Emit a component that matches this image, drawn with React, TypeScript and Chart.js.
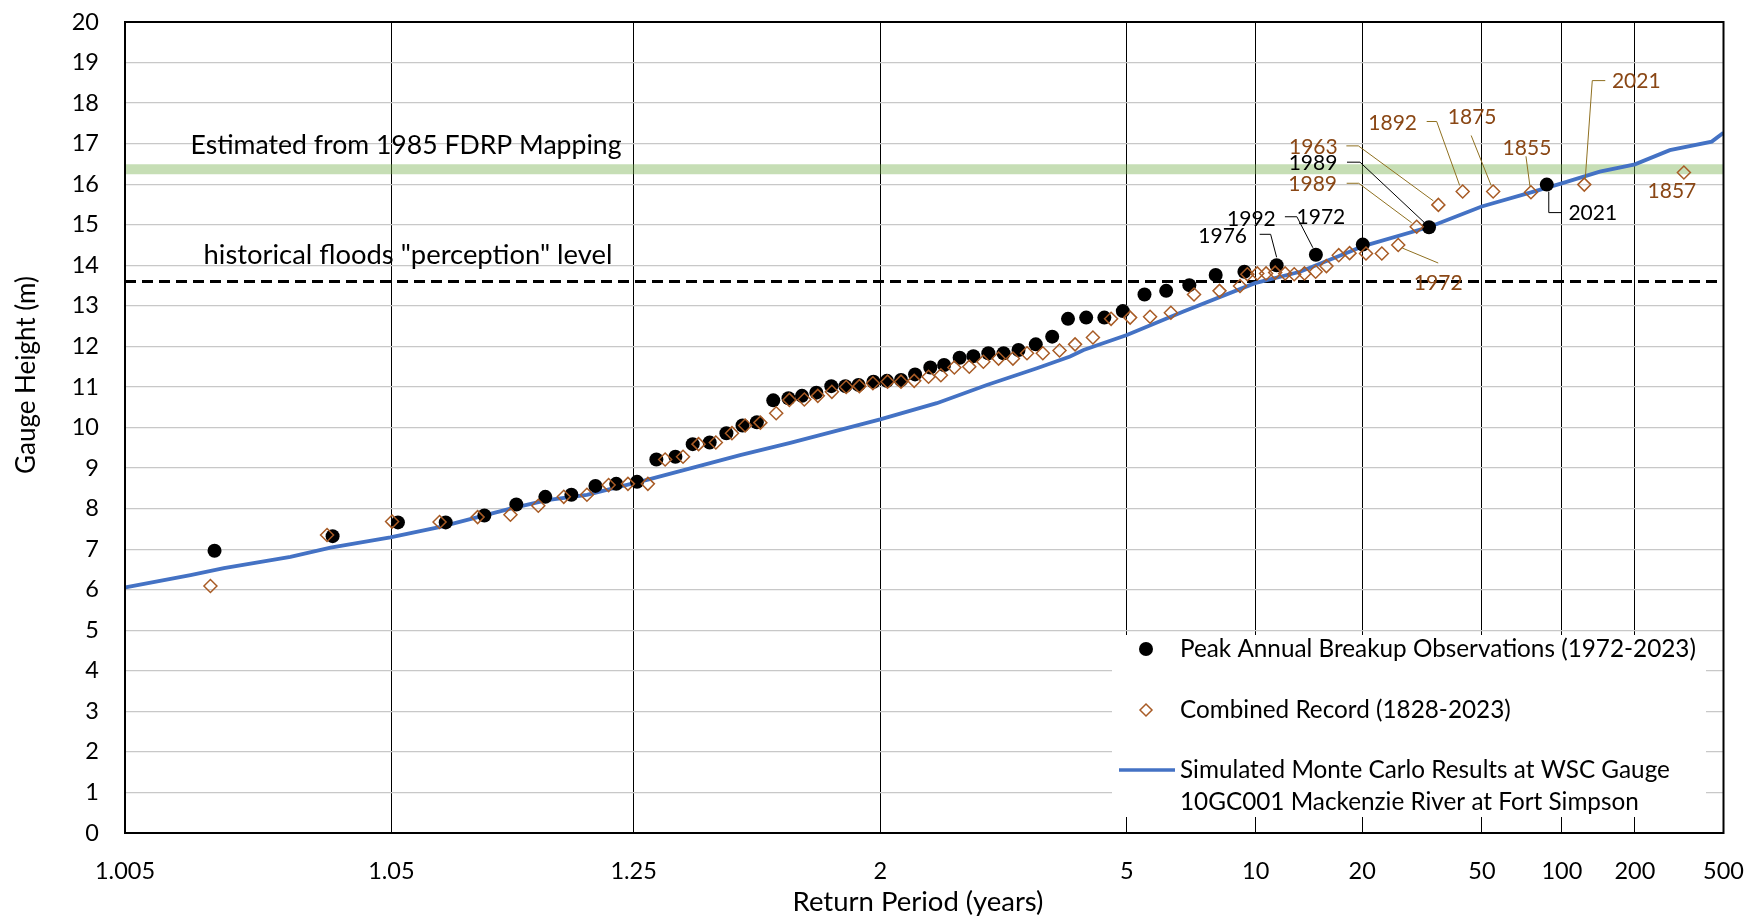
import React, { useEffect, useRef } from 'react';
import { Chart, registerables } from 'chart.js';

Chart.register(...registerables);

// ---------- DATA ----------
// x-axis is a normal-probability axis: x values are the standard normal variate
// of the plotting position (z = Φ⁻¹(1 − 1/T)); ticks are labelled with return period T.
const RETURN_PERIOD_TICKS = [1.005, 1.05, 1.25, 2, 5, 10, 20, 50, 100, 200, 500];
const GAUGE_MIN = 0;
const GAUGE_MAX = 20;

// Peak Annual Breakup Observations (1972-2023)
const obsZ = [
  -2.272, -1.869, -1.646, -1.483, -1.351, -1.242, -1.143, -1.054, -0.972, -0.901,
  -0.830, -0.764, -0.699, -0.640, -0.582, -0.525, -0.470, -0.421, -0.365, -0.313,
  -0.267, -0.218, -0.167, -0.119, -0.074, -0.023, 0.023, 0.071, 0.119, 0.171,
  0.218, 0.271, 0.318, 0.369, 0.421, 0.472, 0.531, 0.587, 0.641, 0.703,
  0.765, 0.828, 0.902, 0.976, 1.055, 1.145, 1.243, 1.353, 1.487, 1.647,
  1.873, 2.275,
];
const obsHeight = [
  6.96, 7.32, 7.66, 7.66, 7.83, 8.10, 8.29, 8.34, 8.56, 8.61,
  8.66, 9.21, 9.28, 9.59, 9.63, 9.86, 10.05, 10.13, 10.67, 10.72,
  10.78, 10.86, 11.02, 11.02, 11.05, 11.13, 11.15, 11.17, 11.31, 11.48,
  11.54, 11.72, 11.76, 11.83, 11.83, 11.91, 12.05, 12.24, 12.68, 12.71,
  12.71, 12.87, 13.28, 13.37, 13.51, 13.76, 13.84, 14.00, 14.26, 14.51,
  14.94, 15.99,
];

// Combined Record (1828-2023)
const combZ = [
  -2.286, -1.888, -1.666, -1.504, -1.374, -1.262, -1.167, -1.080, -1.001, -0.927,
  -0.861, -0.793, -0.734, -0.673, -0.620, -0.561, -0.506, -0.461, -0.409, -0.355,
  -0.310, -0.259, -0.213, -0.165, -0.116, -0.071, -0.025, 0.025, 0.071, 0.116,
  0.165, 0.207, 0.253, 0.304, 0.352, 0.404, 0.453, 0.501, 0.555, 0.612,
  0.665, 0.726, 0.788, 0.853, 0.921, 0.992, 1.071, 1.158, 1.228, 1.253,
  1.287, 1.317, 1.348, 1.382, 1.413, 1.448, 1.486, 1.523, 1.565, 1.602,
  1.658, 1.712, 1.768, 1.831, 1.905, 1.988, 2.092, 2.221, 2.403, 2.743,
];
const combHeight = [
  6.09, 7.35, 7.68, 7.67, 7.79, 7.85, 8.07, 8.29, 8.34, 8.58,
  8.61, 8.61, 9.21, 9.28, 9.59, 9.63, 9.86, 10.05, 10.12, 10.35,
  10.68, 10.69, 10.78, 10.88, 11.00, 11.02, 11.09, 11.13, 11.13, 11.15,
  11.25, 11.29, 11.48, 11.50, 11.62, 11.70, 11.70, 11.83, 11.83, 11.90,
  12.05, 12.22, 12.68, 12.71, 12.73, 12.83, 13.28, 13.37, 13.49, 13.78,
  13.80, 13.80, 13.82, 13.80, 13.78, 13.80, 13.84, 13.98, 14.25, 14.30,
  14.29, 14.29, 14.50, 14.95, 15.49, 15.82, 15.82, 15.80, 15.99, 16.29,
];

// Simulated Monte Carlo Results at WSC Gauge 10GC001
const simZ = [
  -2.576, -2.354, -2.240, -2.013, -1.876, -1.672, -1.501, -1.262, -1.137, -1.001,
  -0.796, -0.648, -0.478, -0.307, 0.000, 0.193, 0.364, 0.535, 0.648, 0.694,
  0.842, 1.035, 1.279, 1.433, 1.604, 1.643, 1.876, 2.053, 2.221, 2.326,
  2.456, 2.576, 2.695, 2.838, 2.878,
];
const simHeight = [
  6.06, 6.36, 6.53, 6.81, 7.04, 7.29, 7.55, 8.00, 8.21, 8.34,
  8.71, 8.99, 9.32, 9.62, 10.20, 10.60, 11.05, 11.46, 11.75, 11.91,
  12.28, 12.86, 13.56, 13.84, 14.34, 14.46, 14.95, 15.45, 15.80, 16.02,
  16.31, 16.49, 16.84, 17.05, 17.27,
];

const FDRP_LEVEL = 16.37; // Estimated from 1985 FDRP Mapping
const PERCEPTION_LEVEL = 13.6; // historical floods "perception" level

// Year callouts: series, point index, label
const ANNOTATIONS = [
  { series: 'obs', index: 47, text: '1976', dx: -54, dy: -29, leader: [[-17, -31], [-6, -31], [0, -8]] },
  { series: 'obs', index: 46, text: '1992', dx: 7, dy: -53, leader: [] },
  { series: 'obs', index: 48, text: '1972', dx: 5, dy: -38, leader: [[-31, -38], [-19, -38], [-3, -7]] },
  { series: 'obs', index: 50, text: '1989', dx: -116, dy: -64, leader: [[-82, -65], [-69, -65], [-5, -5]] },
  { series: 'obs', index: 51, text: '2021', dx: 46, dy: 29, leader: [[2, 7], [2, 28], [15, 28]] },
  { series: 'comb', index: 64, text: '1963', dx: -125, dy: -58, leader: [[-92, -59], [-80, -59], [-5, -4]] },
  { series: 'comb', index: 63, text: '1989', dx: -104, dy: -43, leader: [[-70, -43.5], [-58, -43.5], [-5, -4]] },
  { series: 'comb', index: 65, text: '1892', dx: -70, dy: -68, leader: [[-36, -70], [-26, -70], [-3, -6]] },
  { series: 'comb', index: 66, text: '1875', dx: -21, dy: -74, leader: [[-22, -56], [-2, -6]] },
  { series: 'comb', index: 67, text: '1855', dx: -4, dy: -44, leader: [[-5, -36], [-1, -6]] },
  { series: 'comb', index: 68, text: '2021', dx: 52, dy: -103, leader: [[21, -104], [8, -104], [1, -6]] },
  { series: 'comb', index: 69, text: '1857', dx: -12, dy: 19, leader: [] },
  { series: 'comb', index: 62, text: '1972', dx: 40, dy: 38, leader: [[4, 3], [40, 18]] },
];

// ---------- helpers ----------
function invNorm(p: number): number {
  const a = [-3.969683028665376e1, 2.209460984245205e2, -2.759285104469687e2, 1.38357751867269e2, -3.066479806614716e1, 2.506628277459239];
  const b = [-5.447609879822406e1, 1.615858368580409e2, -1.556989798598866e2, 6.680131188771972e1, -1.328068155288572e1];
  const c = [-7.784894002430293e-3, -3.223964580411365e-1, -2.400758277161838, -2.549732539343734, 4.374664141464968, 2.938163982698783];
  const d = [7.784695709041462e-3, 3.224671290700398e-1, 2.445134137142996, 3.754408661907416];
  const pl = 0.02425;
  if (p < pl) {
    const q = Math.sqrt(-2 * Math.log(p));
    return (((((c[0] * q + c[1]) * q + c[2]) * q + c[3]) * q + c[4]) * q + c[5]) / ((((d[0] * q + d[1]) * q + d[2]) * q + d[3]) * q + 1);
  }
  if (p <= 1 - pl) {
    const q = p - 0.5;
    const r = q * q;
    return ((((((a[0] * r + a[1]) * r + a[2]) * r + a[3]) * r + a[4]) * r + a[5]) * q) / (((((b[0] * r + b[1]) * r + b[2]) * r + b[3]) * r + b[4]) * r + 1);
  }
  const q = Math.sqrt(-2 * Math.log(1 - p));
  return -(((((c[0] * q + c[1]) * q + c[2]) * q + c[3]) * q + c[4]) * q + c[5]) / ((((d[0] * q + d[1]) * q + d[2]) * q + d[3]) * q + 1);
}
const zOfT = (T: number) => invNorm(1 - 1 / T);

const FONT = 'Lato, "Noto Sans", sans-serif';
const BROWN_TEXT = '#8a4715';
const BROWN_MARK = '#a85b25';
const LEADER_GOLD = '#8f7020';
const BLUE = '#4472c4';

const overlayPlugin = {
  id: 'overlay',
  afterDatasetsDraw(chart: any) {
    const { ctx, scales } = chart;
    const x = scales.x;
    const y = scales.y;
    ctx.save();
    // level texts
    ctx.fillStyle = '#000';
    ctx.textAlign = 'center';
    ctx.textBaseline = 'middle';
    ctx.font = `26.6px ${FONT}`;
    ctx.fillText('Estimated from 1985 FDRP Mapping', 406, y.getPixelForValue(FDRP_LEVEL) - 24);
    ctx.font = `27.4px ${FONT}`;
    ctx.fillText('historical floods "perception" level', 408, y.getPixelForValue(PERCEPTION_LEVEL) - 26);

    // callouts
    ctx.font = `21px ${FONT}`;
    for (const an of ANNOTATIONS) {
      const isObs = an.series === 'obs';
      const zx = isObs ? obsZ[an.index] : combZ[an.index];
      const hv = isObs ? obsHeight[an.index] : combHeight[an.index];
      const px = x.getPixelForValue(zx);
      const py = y.getPixelForValue(hv);
      if (an.leader.length > 1) {
        ctx.beginPath();
        ctx.strokeStyle = isObs ? '#000' : LEADER_GOLD;
        ctx.lineWidth = 1;
        an.leader.forEach(([lx, ly], i) => {
          if (i === 0) ctx.moveTo(px + lx, py + ly);
          else ctx.lineTo(px + lx, py + ly);
        });
        ctx.stroke();
      }
      ctx.fillStyle = isObs ? '#000' : BROWN_TEXT;
      ctx.fillText(an.text, px + an.dx, py + an.dy);
    }

    // legend box
    const lx = 1112, ly = 635, lw = 594, lh = 182;
    ctx.fillStyle = '#fff';
    ctx.fillRect(lx, ly, lw, lh);
    ctx.textAlign = 'left';
    ctx.font = `24.3px ${FONT}`;
    ctx.fillStyle = '#000';
    // row 1
    ctx.beginPath();
    ctx.arc(1146, 649, 7, 0, Math.PI * 2);
    ctx.fill();
    ctx.fillText('Peak Annual Breakup Observations (1972-2023)', 1180, 649);
    // row 2
    ctx.beginPath();
    ctx.strokeStyle = BROWN_MARK;
    ctx.lineWidth = 1.5;
    ctx.moveTo(1140, 710);
    ctx.lineTo(1146, 704);
    ctx.lineTo(1152, 710);
    ctx.lineTo(1146, 716);
    ctx.closePath();
    ctx.stroke();
    ctx.fillText('Combined Record (1828-2023)', 1180, 710);
    // row 3
    ctx.beginPath();
    ctx.strokeStyle = BLUE;
    ctx.lineWidth = 3.5;
    ctx.moveTo(1119, 770);
    ctx.lineTo(1175, 770);
    ctx.stroke();
    ctx.fillText('Simulated Monte Carlo Results at WSC Gauge', 1180, 770);
    ctx.fillText('10GC001 Mackenzie River at Fort Simpson', 1180, 802);
    ctx.restore();
  },
  afterDraw(chart: any) {
    const { ctx, chartArea: a } = chart;
    ctx.save();
    ctx.strokeStyle = '#000';
    ctx.lineWidth = 2;
    ctx.strokeRect(a.left, a.top, a.right - a.left, a.bottom - a.top);
    // axis titles
    ctx.fillStyle = '#000';
    ctx.textAlign = 'center';
    ctx.textBaseline = 'middle';
    ctx.font = `27.5px ${FONT}`;
    ctx.fillText('Return Period (years)', 918, 902);
    ctx.translate(27, 375);
    ctx.rotate(-Math.PI / 2);
    ctx.font = `26px ${FONT}`;
    ctx.fillText('Gauge Height (m)', 0, 0);
    ctx.restore();
  },
};

export default function App() {
  const canvasRef = useRef<HTMLCanvasElement | null>(null);

  useEffect(() => {
    document.body.style.margin = '0';
    const canvas = canvasRef.current;
    if (!canvas) return;
    const xMin = zOfT(RETURN_PERIOD_TICKS[0]);
    const xMax = zOfT(RETURN_PERIOD_TICKS[RETURN_PERIOD_TICKS.length - 1]);

    const chart = new Chart(canvas, {
      type: 'scatter',
      data: {
        datasets: [
          {
            label: 'Combined Record (1828-2023)',
            data: combZ.map((z, i) => ({ x: z, y: combHeight[i] })),
            pointStyle: 'rectRot',
            pointRadius: 6.5,
            pointBackgroundColor: 'rgba(255,255,255,0)',
            pointBorderColor: BROWN_MARK,
            pointBorderWidth: 1.5,
            order: 0,
          },
          {
            label: 'Peak Annual Breakup Observations (1972-2023)',
            data: obsZ.map((z, i) => ({ x: z, y: obsHeight[i] })),
            pointStyle: 'circle',
            pointRadius: 7,
            pointBackgroundColor: '#000',
            pointBorderColor: '#000',
            pointBorderWidth: 0,
            order: 1,
          },
          {
            label: 'Simulated Monte Carlo Results at WSC Gauge 10GC001 Mackenzie River at Fort Simpson',
            data: simZ.map((z, i) => ({ x: z, y: simHeight[i] })),
            showLine: true,
            borderColor: BLUE,
            borderWidth: 3.8,
            pointRadius: 0,
            tension: 0,
            order: 2,
          },
          {
            label: 'historical floods "perception" level',
            data: [{ x: xMin, y: PERCEPTION_LEVEL }, { x: xMax, y: PERCEPTION_LEVEL }],
            showLine: true,
            borderColor: '#000',
            borderWidth: 3,
            borderDash: [11, 6],
            pointRadius: 0,
            order: 3,
          },
          {
            label: 'Estimated from 1985 FDRP Mapping',
            data: [{ x: xMin, y: FDRP_LEVEL }, { x: xMax, y: FDRP_LEVEL }],
            showLine: true,
            borderColor: 'rgba(112,173,71,0.4)',
            borderWidth: 10,
            pointRadius: 0,
            order: 4,
          },
        ],
      },
      options: {
        responsive: false,
        animation: false,
        events: [],
        layout: { padding: { left: 0, top: 22, right: 26.5, bottom: 0 } },
        plugins: {
          legend: { display: false },
          tooltip: { enabled: false },
        },
        scales: {
          x: {
            type: 'linear',
            min: xMin,
            max: xMax,
            afterBuildTicks: (scale: any) => {
              scale.ticks = RETURN_PERIOD_TICKS.map((T) => ({ value: zOfT(T) }));
            },
            afterFit: (scale: any) => {
              scale.height = 87;
              scale.paddingLeft = 0;
              scale.paddingRight = 0;
            },
            ticks: {
              autoSkip: false,
              maxRotation: 0,
              padding: 24,
              color: '#000',
              font: { family: FONT, size: 23.5 },
              callback: (_v: any, i: number) => String(RETURN_PERIOD_TICKS[i]),
            },
            grid: { color: '#000', lineWidth: 1, drawTicks: false },
            border: { display: true, color: '#000', width: 2 },
          },
          y: {
            type: 'linear',
            min: GAUGE_MIN,
            max: GAUGE_MAX,
            afterFit: (scale: any) => {
              scale.width = 125;
              scale.paddingTop = 0;
              scale.paddingBottom = 0;
            },
            ticks: {
              stepSize: 1,
              padding: 26,
              color: '#000',
              font: { family: FONT, size: 23.5 },
            },
            grid: { color: '#c8c8c8', lineWidth: 1.3, drawTicks: false },
            border: { display: true, color: '#000', width: 2 },
          },
        },
      },
      plugins: [overlayPlugin],
    } as any);

    return () => chart.destroy();
  }, []);

  return (
    <div style={{ position: 'fixed', left: 0, top: 0, width: 1750, height: 920, background: '#fff' }}>
      <canvas ref={canvasRef} width={1750} height={920} style={{ width: 1750, height: 920 }} />
    </div>
  );
}
